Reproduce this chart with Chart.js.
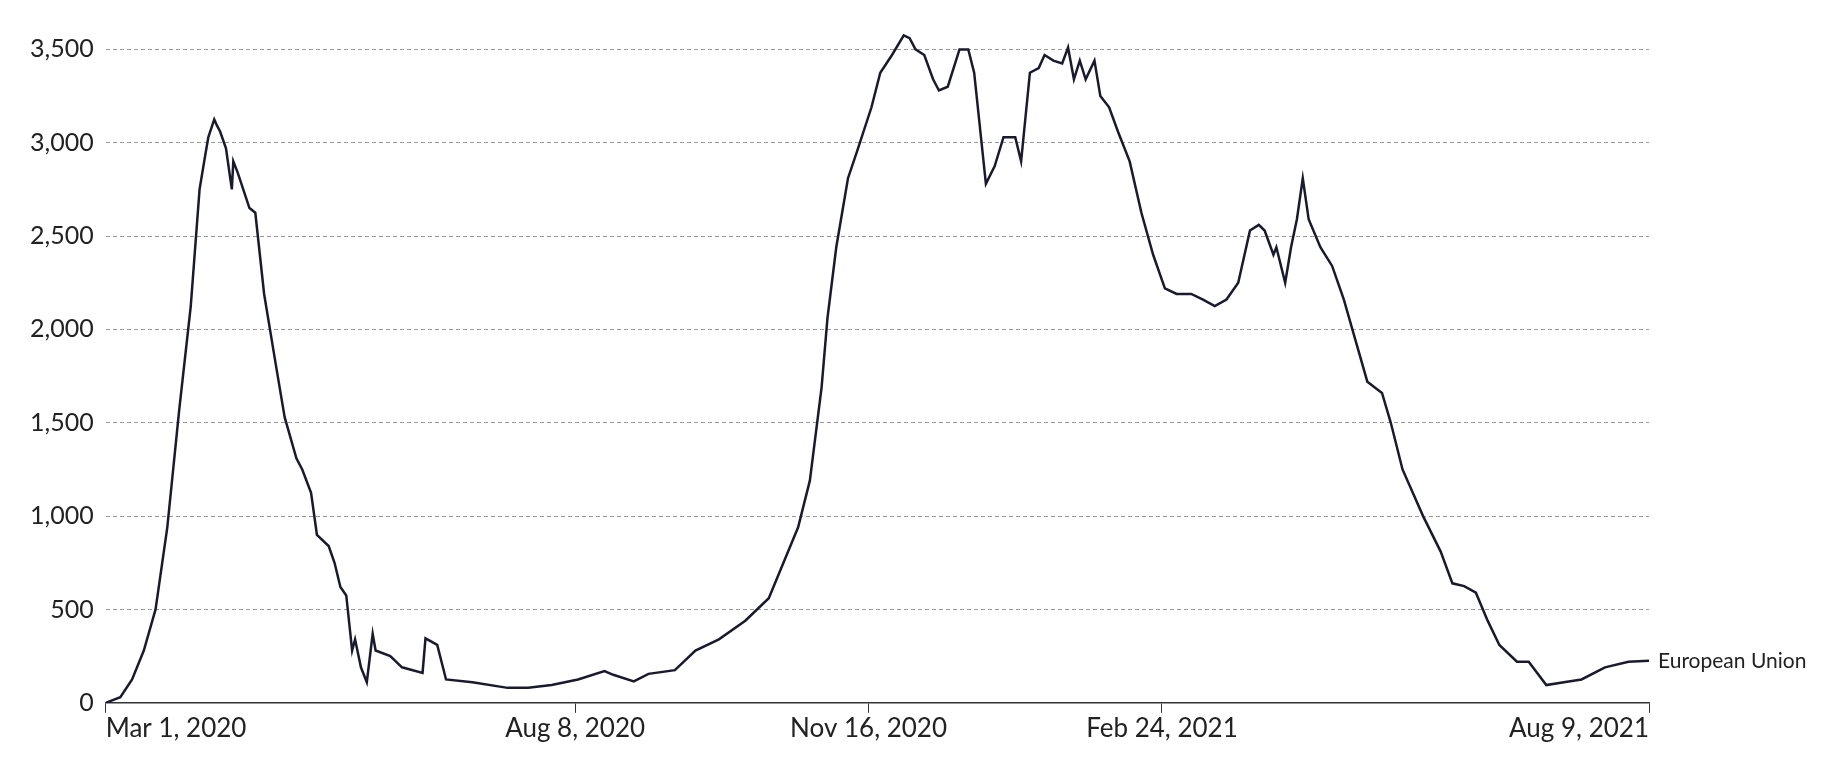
<!DOCTYPE html>
<html>
<head>
<meta charset="utf-8">
<script src="https://cdn.jsdelivr.net/npm/chart.js@4/dist/chart.umd.min.js"></script>
<style>
  html, body { margin: 0; padding: 0; background: #fff; }
  #wrap { width: 1840px; height: 758px; }
</style>
</head>
<body>
<div id="wrap"><canvas id="myChart"></canvas></div>
<script>
// days since Mar 1, 2020 and the value
const days = [0,5,9,13,17,21,25,29,32,34,35,37,38,39,41,43,43.5,45,49,51,54,58,61,65,67,70,72,76,78,80,82,84,85,87,89,91,92,97,101,108,109,113,116,125,137,144,152,161,170,173,180,185,194,201,209,218,226,231,236,240,244,246,249,253,256,261,264,268,272,274,276,279,282,284,287,291,294,296,300,303,306,310,312,315,318,320,323,326,328,330,332,334,337,339,342,345,349,353,357,361,365,370,374,378,382,386,390,393,395,398,399,402,404,406,408,410,414,418,422,426,430,435,438,442,449,455,459,463,467,471,475,481,485,491,497,503,511,519,526];
const values = [0,30,125,280,500,940,1560,2125,2750,2940,3030,3125,3090,3060,2970,2750,2900,2840,2650,2625,2190,1810,1530,1310,1250,1125,900,840,750,620,575,280,340,190,110,370,280,250,190,160,345,310,125,110,80,80,95,125,170,150,115,155,175,280,340,440,560,750,940,1190,1690,2060,2440,2810,2950,3190,3375,3470,3575,3560,3500,3470,3340,3280,3300,3500,3500,3375,2780,2875,3030,3030,2900,3375,3400,3470,3440,3425,3510,3340,3440,3340,3440,3250,3190,3060,2900,2625,2400,2220,2190,2190,2160,2125,2160,2250,2530,2560,2530,2400,2440,2250,2440,2590,2810,2590,2440,2340,2160,1940,1720,1660,1500,1250,1000,810,640,625,590,440,310,220,220,95,110,125,190,220,225];
const seriesName = 'European Union';
const tickDays = [0, 160, 260, 360, 526];
const tickLabels = ['Mar 1, 2020', 'Aug 8, 2020', 'Nov 16, 2020', 'Feb 24, 2021', 'Aug 9, 2021'];
const yTicks = [0, 500, 1000, 1500, 2000, 2500, 3000, 3500];

const endLabel = {
    id: 'endLabel',
    afterDatasetsDraw(chart) {
        const meta = chart.getDatasetMeta(0);
        const last = meta.data[meta.data.length - 1];
        const ctx = chart.ctx;
        ctx.save();
        ctx.font = '21px Lato';
        ctx.fillStyle = '#222';
        ctx.textBaseline = 'middle';
        ctx.fillText(seriesName, last.x + 9, last.y);
        ctx.restore();
    }
};

new Chart(document.getElementById('myChart').getContext('2d'), {
    type: 'scatter',
    data: {
        datasets: [{
            label: seriesName,
            data: days.map((d, i) => ({ x: d, y: values[i] })),
            showLine: true,
            pointRadius: 0,
            borderColor: '#1a1a2e',
            borderWidth: 2.5,
            tension: 0
        }]
    },
    options: {
        responsive: true,
        maintainAspectRatio: false,
        animation: false,
        layout: { padding: { top: 12, right: 191, bottom: 14, left: 18 } },
        plugins: { legend: { display: false }, tooltip: { enabled: false } },
        scales: {
            x: {
                type: 'linear',
                min: 0,
                max: 526,
                afterBuildTicks: axis => { axis.ticks = tickDays.map(v => ({ value: v })); },
                ticks: {
                    callback: v => tickLabels[tickDays.indexOf(v)],
                    font: { family: 'Lato', size: 26 },
                    color: '#222',
                    maxRotation: 0,
                    align: 'inner',
                    padding: 0
                },
                grid: { drawOnChartArea: false, drawTicks: true, tickLength: 10, color: '#333' },
                border: { color: '#333', width: 1.5 }
            },
            y: {
                min: 0,
                max: 3620,
                afterBuildTicks: axis => { axis.ticks = yTicks.map(v => ({ value: v })); },
                ticks: {
                    callback: v => v.toLocaleString('en-US'),
                    font: { family: 'Lato', size: 25 },
                    color: '#222',
                    padding: 12
                },
                grid: { color: '#999', drawTicks: false, lineWidth: 1 },
                border: { display: false, dash: [4, 3] }
            }
        }
    },
    plugins: [endLabel]
});
</script>
</body>
</html>
